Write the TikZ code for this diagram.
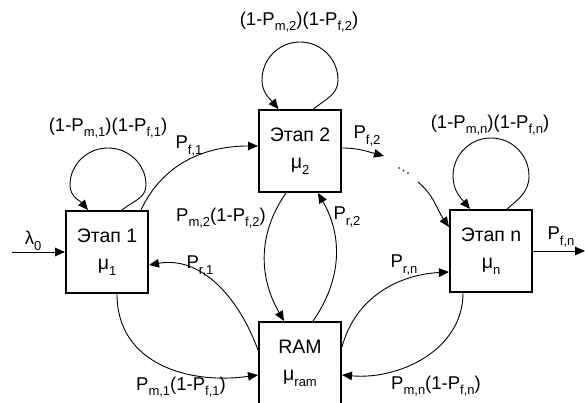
\documentclass[tikz,border=0pt]{standalone}
\usepackage{fontspec}
\setmainfont{Liberation Sans}
\usetikzlibrary{arrows.meta,calc}
\newcommand\sbx[1]{\raisebox{-0.3em}{\fontsize{13}{13}\selectfont #1}}
\begin{document}
\begin{tikzpicture}[x=1pt,y=1pt,
  box/.style={draw,line width=2pt,minimum width=82pt,minimum height=82pt,inner sep=0pt,align=center,font=\fontsize{19.5}{27}\selectfont},
  lbl/.style={inner sep=0pt,font=\fontsize{18.5}{18.5}\selectfont},
  conn/.style={line width=0.9pt,-{Triangle[length=10pt,width=8.5pt]}},
  plain/.style={line width=0.9pt}]
\useasboundingbox (0,0) rectangle (585,-403);
% boxes
\node[box] (b1) at (107,-252) {Этап 1\\μ\sbx{1}};
\node[box] (b2) at (300,-151) {Этап 2\\μ\sbx{2}};
\node[box] (bn) at (491,-251) {Этап n\\μ\sbx{n}};
\node[box] (ram) at (300,-363) {RAM\\μ\sbx{ram}};
% coordinates
\coordinate (src) at (12,-252);
\coordinate (snk) at (585,-251);
\coordinate (tip2) at (384,-156);
\coordinate (d2) at (418,-182);
% input / output
\draw[conn] (src) -- (b1.west);
\draw[conn] (bn.east) -- (snk);
% self loops
\draw[conn] ([xshift=15pt]b1.north) to[out=40,in=-90] ($(b1.north)+(39,25)$) to[out=90,in=0] ($(b1.north)+(1,62)$) to[out=180,in=90] ($(b1.north)+(-37,25)$) to[out=-90,in=130] ([xshift=-19pt]b1.north);
\draw[conn] ([xshift=13.5pt]b2.north) to[out=40,in=-90] ($(b2.north)+(38,29)$) to[out=90,in=0] ($(b2.north)+(0,67)$) to[out=180,in=90] ($(b2.north)+(-38,29)$) to[out=-90,in=130] ([xshift=-21.5pt]b2.north);
\draw[conn] ([xshift=16pt]bn.north) to[out=40,in=-90] ($(bn.north)+(38,33)$) to[out=90,in=0] ($(bn.north)+(0,71)$) to[out=180,in=90] ($(bn.north)+(-38,33)$) to[out=-90,in=130] ([xshift=-21pt]bn.north);
% forward
\draw[conn] ([xshift=34pt]b1.north) to[out=65,in=180] ([yshift=5pt]b2.west);
\draw[conn] ([yshift=3pt]b2.east) to[out=0,in=165] (tip2);
\fill (399,-168) circle (0.8) (403.5,-170.5) circle (0.8) (408,-173) circle (0.8);
\draw[conn] (d2) to[out=-40,in=125] ([yshift=24pt]bn.west);
% RAM links
\draw[conn] ([xshift=-14pt]b2.south) to[out=-125,in=120] ([xshift=-16pt]ram.north);
\draw[conn] ([xshift=13pt]ram.north) to[out=55,in=-60] ([xshift=18pt]b2.south);
\draw[conn] ([yshift=13pt]ram.west) to[out=110,in=10] ([yshift=-13pt]b1.east);
\draw[conn] ([xshift=10pt]b1.south) to[out=-90,in=188,looseness=1.1] ([yshift=-12pt]ram.west);
\draw[conn] ([yshift=16pt]ram.east) to[out=75,in=183] ([yshift=-21pt]bn.west);
\draw[conn] ([xshift=-28pt]bn.south) to[out=-90,in=-5] ([yshift=-12pt]ram.east);
% labels
\node[lbl] (l0) at (33,-241) {λ\sbx{0}};
\node[lbl] (lfn) at (561,-237) {P\sbx{f,n}};
\node[lbl] (lo1) at (108,-128) {(1-P\sbx{m,1})(1-P\sbx{f,1})};
\node[lbl] (lo2) at (299,-22) {(1-P\sbx{m,2})(1-P\sbx{f,2})};
\node[lbl] (lon) at (490,-125) {(1-P\sbx{m,n})(1-P\sbx{f,n})};
\node[lbl] (lf1) at (189,-146) {P\sbx{f,1}};
\node[lbl] (lf2) at (367,-136) {P\sbx{f,2}};
\node[lbl] (lm2) at (221,-218) {P\sbx{m,2}(1-P\sbx{f,2})};
\node[lbl] (lr2) at (347,-217) {P\sbx{r,2}};
\node[lbl] (lr1) at (200,-266) {P\sbx{r,1}};
\node[lbl] (lm1) at (181,-387) {P\sbx{m,1}(1-P\sbx{f,1})};
\node[lbl] (lrn) at (404,-265) {P\sbx{r,n}};
\node[lbl] (lmn) at (436,-386) {P\sbx{m,n}(1-P\sbx{f,n})};
\end{tikzpicture}
\end{document}
